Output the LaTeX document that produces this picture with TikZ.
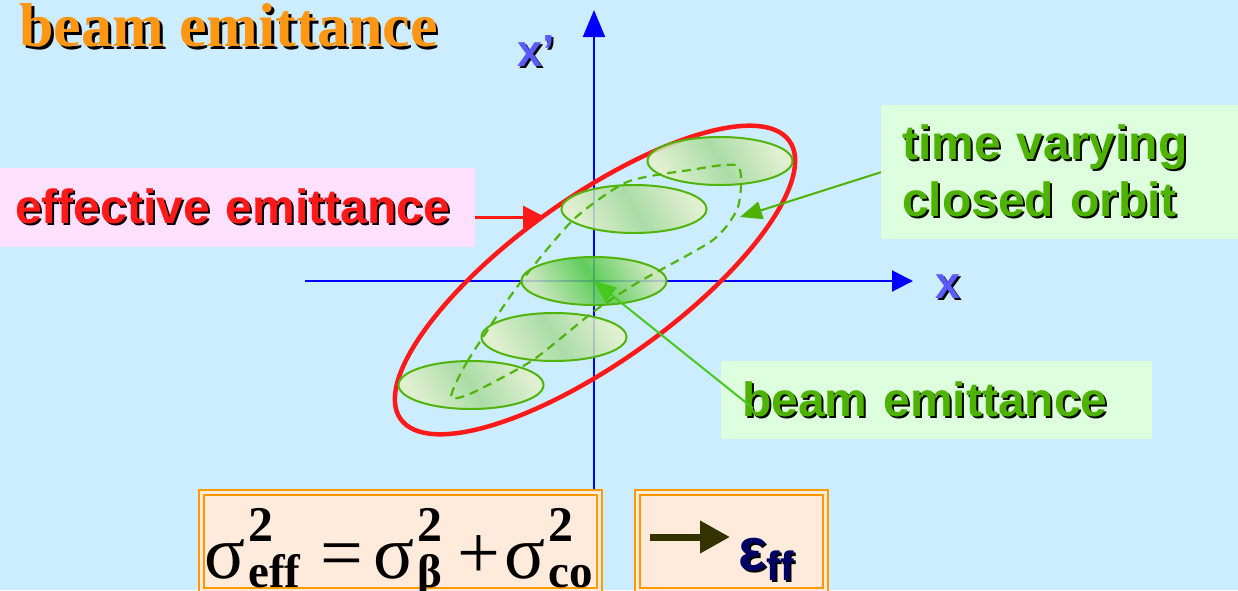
\documentclass[tikz,border=0pt]{standalone}
\usepackage{fontspec}
\setmainfont{Liberation Serif}
\setsansfont{Liberation Sans}
\usetikzlibrary{arrows.meta,positioning,shapes.geometric,calc}
\definecolor{bgblue}{RGB}{204,236,255}
\definecolor{titleorange}{RGB}{255,150,20}
\definecolor{effred}{RGB}{255,25,25}
\definecolor{pinkbg}{RGB}{255,224,255}
\definecolor{mintbg}{RGB}{221,255,221}
\definecolor{lblgreen}{RGB}{77,179,0}
\definecolor{beamgreen}{RGB}{80,180,10}
\definecolor{tipgreen}{RGB}{70,200,30}
\definecolor{axisblue}{RGB}{0,0,255}
\definecolor{xblue}{RGB}{90,90,255}
\definecolor{peach}{RGB}{255,235,220}
\definecolor{rimorange}{RGB}{255,153,0}
\definecolor{darkolive}{RGB}{51,51,0}
\definecolor{navy}{RGB}{0,0,102}
\definecolor{creamgreen}{RGB}{228,240,200}
\definecolor{softgreen}{RGB}{165,218,152}
\definecolor{richgreen}{RGB}{78,200,64}

% text with a black drop shadow
\newcommand{\drop}[3][2pt]{\makebox[0pt][l]{\hspace{#1}\raisebox{-#1}{\color{black}#3}}\textcolor{#2}{#3}}
% sigma with bold superscript 2 and subscript
\newcommand{\sig}[1]{σ\kern3pt\rlap{\raisebox{37pt}{\fontsize{50}{50}\selectfont\bfseries 2}}\raisebox{-9pt}{\fontsize{47}{47}\selectfont\bfseries #1}}

\begin{document}
\begin{tikzpicture}[x=1pt, y=-1pt,
    lbl/.style={font=\fontsize{48}{57}\selectfont\sffamily\bfseries},
    lblbox/.style={lbl, anchor=north west, inner xsep=21pt, inner ysep=0pt,
      align=left},
    axislbl/.style={anchor=base west, inner sep=0pt,
      font=\fontsize{45}{45}\selectfont\sffamily\bfseries},
    axis/.style={axisblue, line width=2pt},
    beamell/.style={ellipse, draw=beamgreen, line width=2pt,
      minimum width=145, minimum height=48, inner sep=0pt, fill opacity=0.85,
      left color=creamgreen, right color=creamgreen, middle color=softgreen,
      shading angle=120},
    coreell/.style={beamell, left color=creamgreen!60!softgreen,
      right color=creamgreen!60!softgreen, middle color=richgreen,
      shading angle=120},
    effell/.style={ellipse, draw=effred, line width=4.5pt, minimum width=478,
      minimum height=164, inner sep=0pt, rotate=35.6},
    orbit/.style={beamgreen, line width=2.2pt, dash pattern=on 9pt off 6pt},
    rarr/.style={effred, line width=3pt, -{Triangle[length=22pt,width=22pt]}},
    garr/.style={lblgreen, line width=2pt, -{Triangle[length=22pt,width=18pt]}},
    frame/.style={draw=rimorange, line width=2pt, double=peach,
      double distance=3pt, fill=peach, anchor=north west, inner sep=0pt},
  ]

  % --- background ---
  \fill[bgblue] (0,0) rectangle (1238,590);
  \useasboundingbox (0,0) rectangle (1238,590);

  % Title
  \node[anchor=base west, inner sep=0pt,
    font=\fontsize{62}{62}\selectfont\bfseries] (title) at (19,46)
    {\drop[3pt]{titleorange}{beam emittance}};

  % --- AXES ---
  \coordinate (xfrom) at (305,281);
  \coordinate (xto) at (913,281);
  \coordinate (yfrom) at (594,590);
  \coordinate (yto) at (594,10);
  \draw[axis, -{Triangle[length=21pt,width=21pt]}] (xfrom) -- (xto);
  \draw[axis, -{Triangle[length=27pt,width=22pt]}] (yfrom) -- (yto);
  \node[axislbl] (xlbl) at (935,298) {\drop{xblue}{x}};
  \node[axislbl] (xplbl) at (517,66) {\drop{xblue}{x’}};

  % --- ELLIPSES ---
  \node[effell] (eff) at (595,280) {};
  \foreach \n/\x/\y in {b1/720/161, b2/634/209, b4/554/337, b5/471/385}
    \node[beamell] (\n) at (\x,\y) {};
  \node[coreell] (b3) at (594,281) {};

  % closed orbit
  \draw[orbit] plot[smooth cycle, tension=0.4] coordinates {
    (451,397) (467,362) (517,287) (573,220) (627,182) (690,170) (738,166)
    (738,207) (713,240) (637,283) (593,312) (533,360) (472,393)};

  % --- LABEL BOXES ---
  \node[lblbox, fill=pinkbg, inner xsep=15pt, text width=445,
    minimum height=79] (effbox) at (0,168)
    {\drop{effred}{effective emittance}};
  \node[lblbox, fill=mintbg, text width=315, minimum height=134] (orbbox)
    at (881,105)
    {\drop{lblgreen}{time varying}\\\drop{lblgreen}{closed orbit}};
  \node[lblbox, fill=mintbg, text width=389, minimum height=78] (beambox)
    at (721,361) {\drop{lblgreen}{beam emittance}};

  % Arrows to the picture
  \coordinate (efftip) at (545,217);
  \draw[rarr] (effbox.east |- efftip) -- (efftip);
  \coordinate (orbtip) at (740,217);
  \draw[garr] (orbbox.west) -- (orbtip);
  \draw[garr, tipgreen] ($(beambox.west)+(32,8)$) -- (b3.center);

  % --- FORMULA BOXES ---
  \node[frame, minimum width=398.5, minimum height=98] (formbox)
    at (200,491.5) {};
  \node[frame, minimum width=188, minimum height=98] (resbox)
    at (636.5,491.5) {};
  \node[anchor=base west, inner sep=0pt, font=\fontsize{76}{76}\selectfont]
    (formula) at (204,578)
    {\sig{eff}\hspace{20pt}=\hspace{10pt}\sig{β}\hspace{16pt}+\hspace{4pt}\sig{co}};
  \coordinate (rfrom) at (650,537);
  \coordinate (rto) at (730,537);
  \draw[darkolive, line width=7pt, -{Triangle[length=30pt,width=31pt]}]
    (rfrom) -- (rto);
  \node[anchor=base west, inner sep=0pt, font=\sffamily\bfseries] (epsff)
    at (738,570)
    {{\fontsize{60}{60}\selectfont\drop{navy}{ε}}\raisebox{-10pt}{\fontsize{41}{41}\selectfont\drop{navy}{ff}}};

\end{tikzpicture}
\end{document}
